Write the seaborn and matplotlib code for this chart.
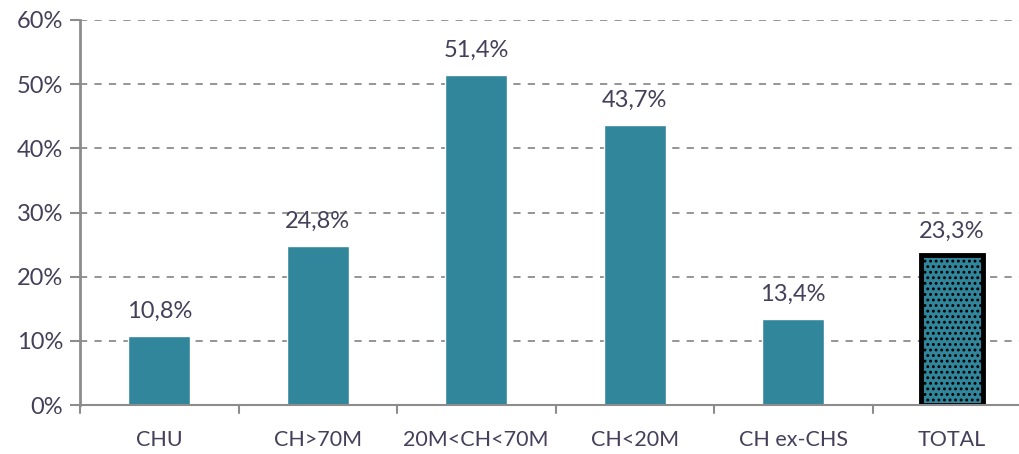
import matplotlib
matplotlib.use('Agg')
import matplotlib.pyplot as plt
import seaborn as sns
import pandas as pd

# data
categories = ['CHU', 'CH>70M', '20M<CH<70M', 'CH<20M', 'CH ex-CHS', 'TOTAL']
values = [10.8, 24.8, 51.4, 43.7, 13.4, 23.3]
yticks = [0, 10, 20, 30, 40, 50, 60]

bar_color = '#31869b'
text_color = '#463f5a'
axis_color = '#8c8c8c'

sns.set_style('white')
plt.rcParams['font.family'] = ['Lato', 'DejaVu Sans']
plt.rcParams['hatch.linewidth'] = 1.3

df = pd.DataFrame({'cat': categories, 'val': values})

fig = plt.figure(figsize=(10.19, 4.54), dpi=100)
# the plot area runs a little past the right edge of the picture
ax = fig.add_axes([80 / 1019, 1 - 405 / 454, 951 / 1019, 385 / 454])

sns.barplot(data=df, x='cat', y='val', color=bar_color, saturation=1,
            width=0.39, ax=ax)

# TOTAL bar: dotted fill with a heavy black outline
total = ax.patches[-1]
total.set_hatch('...')
total.set_edgecolor('black')
total.set_linewidth(3.5)

for p, v in zip(ax.patches, values):
    ax.text(p.get_x() + p.get_width() / 2, v + 2.2,
            f'{v:.1f}%'.replace('.', ','), ha='center', va='bottom',
            fontsize=17, color=text_color)

ax.set_ylim(0, 60)
ax.set_xlim(-0.5, len(categories) - 0.5)
ax.set_yticks(yticks)
ax.set_yticklabels([f'{t}%' for t in yticks], fontsize=17, color=text_color)
ax.set_xticks(range(len(categories)))
ax.set_xticklabels(categories, fontsize=15.5, color=text_color)
ax.tick_params(axis='x', length=0, pad=18)
ax.tick_params(axis='y', length=7, width=1.5, color=axis_color, pad=5, left=True)

# tick marks between categories on the x axis
for b in range(len(categories)):
    ax.plot([b - 0.5, b - 0.5], [0, -1.3], color=axis_color, lw=1.5,
            clip_on=False)

ax.yaxis.grid(True, linestyle=(0, (4, 4)), color=axis_color, lw=1.3)
ax.set_axisbelow(True)
ax.set_xlabel('')
ax.set_ylabel('')

for side in ['top', 'right']:
    ax.spines[side].set_visible(False)
ax.spines['left'].set_color(axis_color)
ax.spines['left'].set_linewidth(2)
ax.spines['bottom'].set_color(axis_color)
ax.spines['bottom'].set_linewidth(1.5)

fig.savefig('out.png', dpi=100)
